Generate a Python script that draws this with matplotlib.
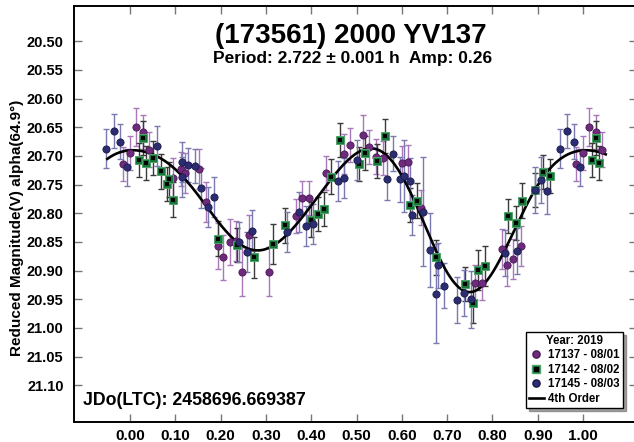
import matplotlib.pyplot as plt
import numpy as np
from matplotlib.lines import Line2D

plt.rcParams['font.family'] = ['Liberation Sans', 'DejaVu Sans']
plt.rcParams['font.weight'] = 'bold'

# session 17137 - 08/01 (purple)
ph_137 = [0.013, 0.029, 0.042, 0.096, 0.112, 0.122, 0.152, 0.167, 0.194, 0.206,
          0.221, 0.234, 0.248, 0.262, 0.306, 0.366, 0.379, 0.395, 0.433, 0.473,
          0.486, 0.515, 0.528, 0.542, 0.558, 0.600, 0.613, 0.643, 0.761, 0.777,
          0.820, 0.833, 0.846, 0.862, 0.985, 0.999]
mag_137 = [20.649, 20.658, 20.689, 20.738, 20.723, 20.730, 20.723, 20.781, 20.857, 20.877,
           20.850, 20.848, 20.902, 20.838, 20.902, 20.805, 20.773, 20.773, 20.730, 20.697,
           20.681, 20.664, 20.684, 20.701, 20.703, 20.713, 20.711, 20.790, 20.921, 20.921,
           20.863, 20.891, 20.879, 20.857, 20.714, 20.695]
err_137 = [0.033, 0.030, 0.030, 0.035, 0.030, 0.035, 0.035, 0.035, 0.040, 0.040,
           0.040, 0.035, 0.043, 0.035, 0.043, 0.030, 0.030, 0.030, 0.030, 0.035,
           0.030, 0.035, 0.030, 0.030, 0.030, 0.030, 0.030, 0.030, 0.030, 0.030,
           0.035, 0.035, 0.035, 0.035, 0.030, 0.030]

# session 17142 - 08/02 (green)
ph_142 = [0.020, 0.029, 0.035, 0.051, 0.068, 0.081, 0.085, 0.095, 0.194, 0.237,
          0.274, 0.316, 0.343, 0.400, 0.414, 0.428, 0.443, 0.464, 0.506, 0.519,
          0.546, 0.562, 0.619, 0.633, 0.675, 0.740, 0.756, 0.768, 0.784, 0.835,
          0.851, 0.865, 0.893, 0.912, 0.926]
mag_142 = [20.707, 20.669, 20.712, 20.704, 20.727, 20.749, 20.741, 20.776, 20.844, 20.855,
           20.877, 20.854, 20.821, 20.811, 20.801, 20.793, 20.736, 20.672, 20.714, 20.695,
           20.709, 20.665, 20.785, 20.778, 20.877, 20.923, 20.956, 20.899, 20.892, 20.805,
           20.817, 20.778, 20.759, 20.728, 20.735]
err_142 = [0.030, 0.030, 0.030, 0.030, 0.030, 0.030, 0.030, 0.030, 0.030, 0.030,
           0.035, 0.035, 0.030, 0.030, 0.030, 0.030, 0.030, 0.030, 0.030, 0.030,
           0.030, 0.030, 0.030, 0.030, 0.030, 0.030, 0.035, 0.035, 0.035, 0.030,
           0.030, 0.030, 0.030, 0.030, 0.030]

# session 17145 - 08/03 (navy)
ph_145 = [0.059, 0.114, 0.115, 0.128, 0.143, 0.157, 0.172, 0.185, 0.240, 0.258,
          0.270, 0.346, 0.374, 0.388, 0.403, 0.458, 0.473, 0.502, 0.567, 0.580,
          0.595, 0.604, 0.619, 0.623, 0.647, 0.662, 0.675, 0.679, 0.693, 0.722,
          0.737, 0.752, 0.827, 0.855, 0.894, 0.907, 0.920, 0.948, 0.964, 0.979,
          0.993]
mag_145 = [20.683, 20.710, 20.737, 20.716, 20.718, 20.756, 20.789, 20.771, 20.850, 20.867,
           20.830, 20.833, 20.798, 20.822, 20.819, 20.744, 20.739, 20.707, 20.740, 20.696,
           20.741, 20.735, 20.744, 20.803, 20.797, 20.864, 20.940, 20.891, 20.926, 20.951,
           20.939, 20.950, 20.869, 20.866, 20.760, 20.742, 20.761, 20.687, 20.656, 20.675,
           20.720]
err_145 = [0.035, 0.035, 0.035, 0.030, 0.030, 0.035, 0.035, 0.035, 0.035, 0.035,
           0.035, 0.035, 0.035, 0.035, 0.035, 0.035, 0.035, 0.035, 0.036, 0.031,
           0.040, 0.063, 0.040, 0.035, 0.095, 0.065, 0.087, 0.040, 0.040, 0.040,
           0.040, 0.050, 0.040, 0.040, 0.040, 0.040, 0.040, 0.034, 0.030, 0.030,
           0.032]

sessions = ['17137 - 08/01', '17142 - 08/02', '17145 - 08/03']
x_ticks = [0.0, 0.1, 0.2, 0.3, 0.4, 0.5, 0.6, 0.7, 0.8, 0.9, 1.0]
y_ticks = [20.50, 20.55, 20.60, 20.65, 20.70, 20.75, 20.80, 20.85, 20.90,
           20.95, 21.00, 21.05, 21.10]


def wrap(ph, mag, err, lo=-0.055, hi=1.045):
    ph, mag, err = np.asarray(ph), np.asarray(mag), np.asarray(err)
    xs, ys, es = [], [], []
    for s in (-1, 0, 1):
        m = (ph + s >= lo) & (ph + s <= hi)
        xs.append(ph[m] + s)
        ys.append(mag[m])
        es.append(err[m])
    return np.concatenate(xs), np.concatenate(ys), np.concatenate(es)


def basis(x, order=4):
    cols = [np.ones_like(x)]
    for k in range(1, order + 1):
        cols.append(np.cos(2 * np.pi * k * x))
        cols.append(np.sin(2 * np.pi * k * x))
    return np.column_stack(cols)


fig = plt.figure(figsize=(6.34, 4.42), dpi=100)
ax = fig.add_axes([74 / 634, 20 / 442, 563 / 634, 416 / 442])

# 4th order fourier fit to all sessions
all_ph = np.concatenate([ph_137, ph_142, ph_145])
all_mag = np.concatenate([mag_137, mag_142, mag_145])
all_err = np.concatenate([err_137, err_142, err_145])
coef = np.linalg.lstsq(basis(all_ph) / all_err[:, None], all_mag / all_err, rcond=None)[0]
xc = np.linspace(-0.05, 1.05, 500)
ax.plot(xc, basis(xc) @ coef, color='black', lw=1.9, zorder=3)

x1, y1, e1 = wrap(ph_137, mag_137, err_137)
x2, y2, e2 = wrap(ph_142, mag_142, err_142)
x3, y3, e3 = wrap(ph_145, mag_145, err_145)

ax.errorbar(x1, y1, yerr=e1, fmt='none', ecolor='#a878b8', elinewidth=1, capsize=2, capthick=1, zorder=2)
ax.errorbar(x2, y2, yerr=e2, fmt='none', ecolor='#3a3a3a', elinewidth=1, capsize=2, capthick=1, zorder=2)
ax.errorbar(x3, y3, yerr=e3, fmt='none', ecolor='#7a7ab0', elinewidth=1, capsize=2, capthick=1, zorder=2)

ax.plot(x1, y1, 'o', ms=5.2, mfc='#6e2a7c', mec='#4a1a55', mew=0.6, zorder=4)
ax.plot(x2, y2, 's', ms=6.4, mfc='#17753a', mec='#4fa468', mew=0.7, zorder=4)
ax.plot(x2, y2, 's', ms=3.3, mfc='black', mec='black', mew=0, zorder=4)
ax.plot(x3, y3, 'o', ms=5.2, mfc='#2c2c72', mec='#1a1a4a', mew=0.6, zorder=4)

ax.set_xlim(-0.1236, 1.119)
ax.set_ylim(21.164, 20.4384)
ax.set_xticks(x_ticks)
ax.set_xticklabels([f'{v:.2f}' for v in x_ticks])
ax.set_yticks(y_ticks)
ax.set_yticklabels([f'{v:.2f}' for v in y_ticks])
ax.tick_params(axis='x', direction='in', length=6, width=1, color='#777', top=True,
               labelsize=11, pad=5)
ax.tick_params(axis='y', direction='in', length=6, width=1, color='#777', right=True,
               labelsize=10.5, pad=7.5)
for sp in ax.spines.values():
    sp.set_linewidth(1.4)

fig.text(17 / 634, 214 / 442, 'Reduced Magnitude(V) alpha(64.9°)', rotation=90,
         ha='center', va='center', fontsize=11, fontweight='bold')
fig.text(351 / 634, 1 - 43 / 442, '(173561) 2000 YV137', ha='center', va='baseline',
         fontsize=20, fontweight='bold')
fig.text(353 / 634, 1 - 63 / 442, 'Period: 2.722 ± 0.001 h  Amp: 0.26', ha='center',
         va='baseline', fontsize=12.5, fontweight='bold')
fig.text(83 / 634, 1 - 405 / 442, 'JDo(LTC): 2458696.669387', ha='left', va='baseline',
         fontsize=12.8, fontweight='bold')

handles = [
    Line2D([], [], ls='none', marker='o', ms=5.2, mfc='#6e2a7c', mec='#4a1a55'),
    (Line2D([], [], ls='none', marker='s', ms=6.4, mfc='#17753a', mec='#4fa468'),
     Line2D([], [], ls='none', marker='s', ms=3.3, mfc='black', mec='black')),
    Line2D([], [], ls='none', marker='o', ms=5.2, mfc='#2c2c72', mec='#1a1a4a'),
    Line2D([], [], color='black', lw=1.9),
]
leg = ax.legend(handles, sessions + ['4th Order'], title='Year: 2019', loc='lower right',
                bbox_to_anchor=(0.975, 0.034), borderaxespad=0, fontsize=8.3,
                title_fontproperties={'weight': 'bold', 'size': 8.3},
                frameon=True, fancybox=False, shadow=True, edgecolor='black',
                labelspacing=0.22, handlelength=1.3, handletextpad=0.4,
                borderpad=0.25)
leg.get_frame().set_linewidth(1.0)
leg.set_zorder(10)

fig.savefig('out.png', dpi=100)
